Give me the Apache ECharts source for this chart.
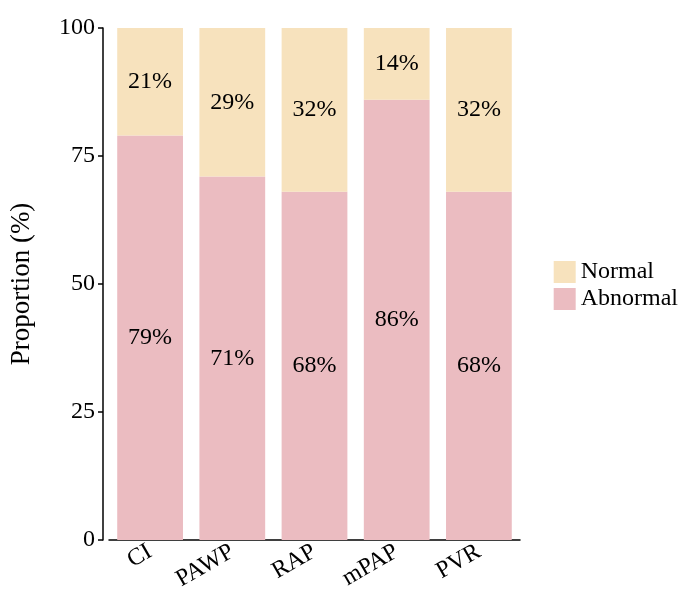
<!DOCTYPE html>
<html><head><meta charset="utf-8">
<script src="https://cdn.jsdelivr.net/npm/echarts@6/dist/echarts.min.js"></script>
<style>html,body{margin:0;background:#fff}#c{width:685px;height:613px}</style>
</head><body><div id="c"></div>
<script>
var categories = ['CI', 'PAWP', 'RAP', 'mPAP', 'PVR'];
var abnormal = [79, 71, 68, 86, 68];
var normal = [21, 29, 32, 14, 32];
var yTicks = [0, 25, 50, 75, 100];

var font = 'Liberation Serif';
var chart = echarts.init(document.getElementById('c'));
chart.setOption({
  animation: false,
  grid: { left: 106, top: 28, width: 414, bottom: 73 },
  legend: {
    right: 2, top: 255, orient: 'vertical', itemWidth: 22, itemHeight: 22, itemGap: 3,
    icon: 'rect',
    textStyle: { fontFamily: font, fontSize: 24, color: '#000' },
    data: ['Normal', 'Abnormal']
  },
  xAxis: {
    type: 'category', data: categories,
    axisLine: { lineStyle: { color: '#000', width: 1.5 } },
    axisTick: { alignWithLabel: true, lineStyle: { color: '#000', width: 1.5 } },
    axisLabel: { rotate: 30, fontFamily: font, fontSize: 24, color: '#000', margin: 10 }
  },
  yAxis: {
    type: 'value', min: 0, max: 100, interval: 25, offset: 6,
    name: 'Proportion (%)', nameLocation: 'middle', nameGap: 68,
    nameTextStyle: { fontFamily: font, fontSize: 27, color: '#000' },
    splitLine: { show: false },
    axisLine: { show: true, lineStyle: { color: '#000', width: 1.5 } },
    axisTick: { show: true, lineStyle: { color: '#000', width: 1.5 } },
    axisLabel: { fontFamily: font, fontSize: 24, color: '#000',
      formatter: function (v) { return yTicks.indexOf(v) >= 0 ? v : ''; } }
  },
  series: [
    { name: 'Abnormal', type: 'bar', stack: 's', data: abnormal, barWidth: '80%',
      itemStyle: { color: '#EBBCC1' },
      label: { show: true, position: 'inside', formatter: '{c}%', fontFamily: font, fontSize: 24, color: '#000' } },
    { name: 'Normal', type: 'bar', stack: 's', data: normal,
      itemStyle: { color: '#F7E2BD' },
      label: { show: true, position: 'inside', formatter: '{c}%', fontFamily: font, fontSize: 24, color: '#000' } }
  ]
});
</script></body></html>
